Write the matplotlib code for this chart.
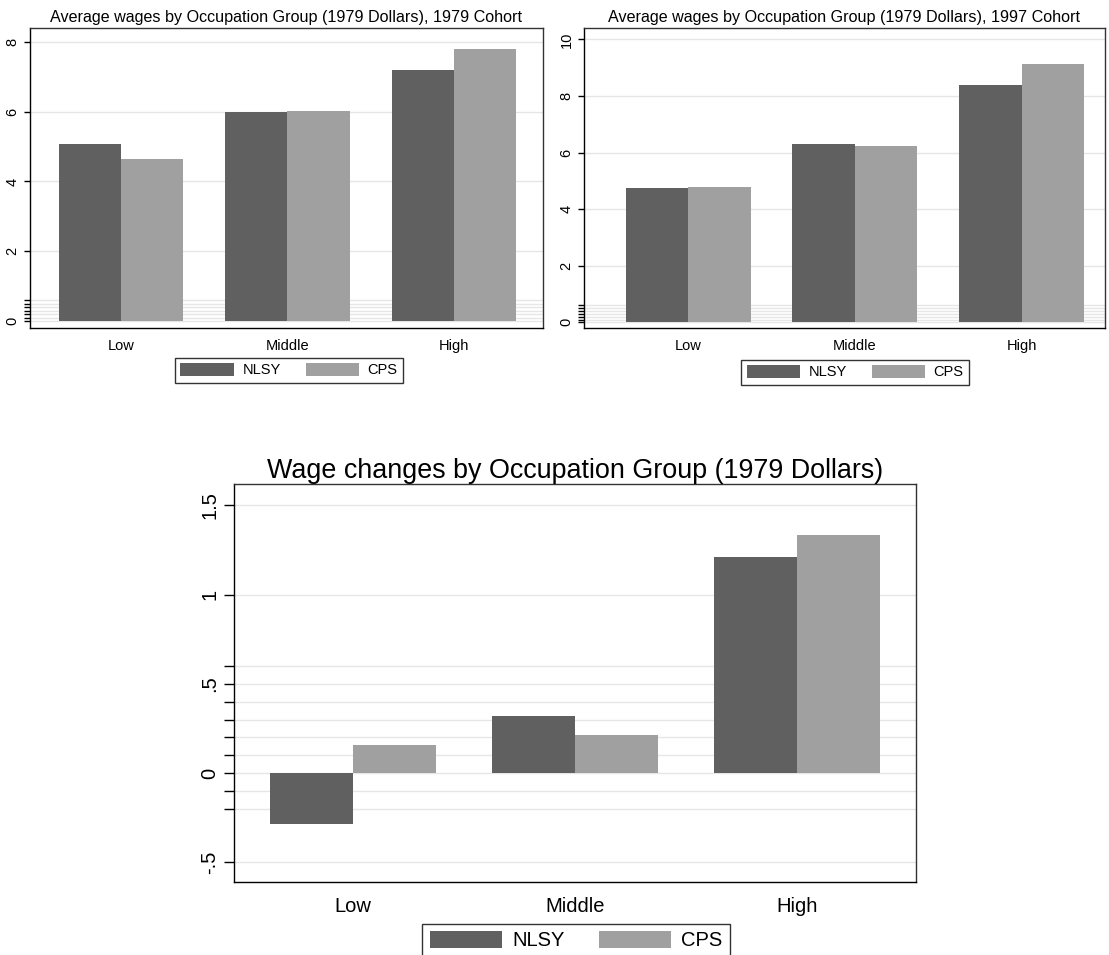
import matplotlib.pyplot as plt
import numpy as np

plt.rcParams['font.family'] = ['Liberation Sans', 'DejaVu Sans']

groups = ["Low", "Middle", "High"]
series = ["NLSY", "CPS"]

wages_1979_nlsy = [5.07, 5.98, 7.19]
wages_1979_cps = [4.64, 6.03, 7.81]

wages_1997_nlsy = [4.76, 6.29, 8.39]
wages_1997_cps = [4.79, 6.23, 9.14]

change_nlsy = [-0.286, 0.318, 1.21]
change_cps = [0.156, 0.212, 1.333]

dark = "#606060"
light = "#a0a0a0"
grid = "#e6e6e6"

W, H = 1109, 955
fig = plt.figure(figsize=(W / 100, H / 100), dpi=100)


def px_axes(x0, y0, x1, y1):
    return fig.add_axes([x0 / W, 1 - y1 / H, (x1 - x0) / W, (y1 - y0) / H])


def draw(ax, nlsy, cps, title, major, minor, ylim, xlim, fs_title, fs_tick,
         ticklen, tick_fmt):
    x = np.arange(len(groups))
    w = 0.375
    ax.bar(x - w / 2, nlsy, w, color=dark, label=series[0], zorder=3)
    ax.bar(x + w / 2, cps, w, color=light, label=series[1], zorder=3)
    ax.set_xlim(*xlim)
    ax.set_ylim(*ylim)
    ax.set_xticks(x)
    ax.set_xticklabels(groups, fontsize=fs_tick)
    ax.tick_params(axis="x", length=0, pad=ticklen + 4)
    ax.set_yticks(major)
    ax.set_yticklabels([tick_fmt(v) for v in major], rotation=90,
                       va="center", fontsize=fs_tick)
    ax.set_yticks(minor, minor=True)
    ax.tick_params(axis="y", which="both", direction="out", length=ticklen,
                   width=1, color="black")
    for v in list(major) + list(minor):
        ax.axhline(v, color=grid, lw=1, zorder=1)
    for s in ax.spines.values():
        s.set_color("#333333")
        s.set_linewidth(1)
    ax.spines["left"].set_color("black")
    ax.spines["bottom"].set_color("black")
    ax.set_title(title, fontsize=fs_title, pad=4)


ax1 = px_axes(30, 28, 543, 328)
draw(ax1, wages_1979_nlsy, wages_1979_cps,
     "Average wages by Occupation Group (1979 Dollars), 1979 Cohort",
     [0, 2, 4, 6, 8], [0.1, 0.2, 0.3, 0.4, 0.5, 0.6],
     (-0.2, 8.4), (-0.547, 2.535), 11.6, 10.5, 4, lambda v: f"{v:g}")

ax2 = px_axes(584, 28, 1105, 328)
draw(ax2, wages_1997_nlsy, wages_1997_cps,
     "Average wages by Occupation Group (1979 Dollars), 1997 Cohort",
     [0, 2, 4, 6, 8, 10], [0.1, 0.2, 0.3, 0.4, 0.5, 0.6],
     (-0.2, 10.4), (-0.625, 2.5), 11.6, 10.5, 4, lambda v: f"{v:g}")

ax3 = px_axes(234, 484, 916, 882)


def fmt_change(v):
    s = f"{v:g}"
    return s.replace("0.", ".")


draw(ax3, change_nlsy, change_cps,
     "Wage changes by Occupation Group (1979 Dollars)",
     [-0.5, 0, 0.5, 1, 1.5], [-0.2, -0.1, 0.1, 0.2, 0.3, 0.4, 0.6],
     (-0.61, 1.62), (-0.536, 2.536), 19.4, 14.5, 7, fmt_change)


def legend(ax, cx, top, fs, hl, hh, cs, tp):
    leg = ax.legend(loc="upper center", bbox_to_anchor=(cx / W, 1 - top / H),
                    bbox_transform=fig.transFigure, ncol=2, fontsize=fs,
                    frameon=True, fancybox=False, handlelength=hl,
                    handleheight=hh, columnspacing=cs, borderpad=0.35,
                    handletextpad=tp, borderaxespad=0)
    leg.get_frame().set_edgecolor("black")
    leg.get_frame().set_linewidth(1)


legend(ax1, 289, 358, 10.5, 3.7, 0.95, 1.7, 0.55)
legend(ax2, 855, 360, 10.5, 3.7, 0.95, 1.7, 0.55)
legend(ax3, 576, 924, 14.5, 3.6, 0.9, 1.7, 0.5)

fig.savefig("out.png", dpi=100)
